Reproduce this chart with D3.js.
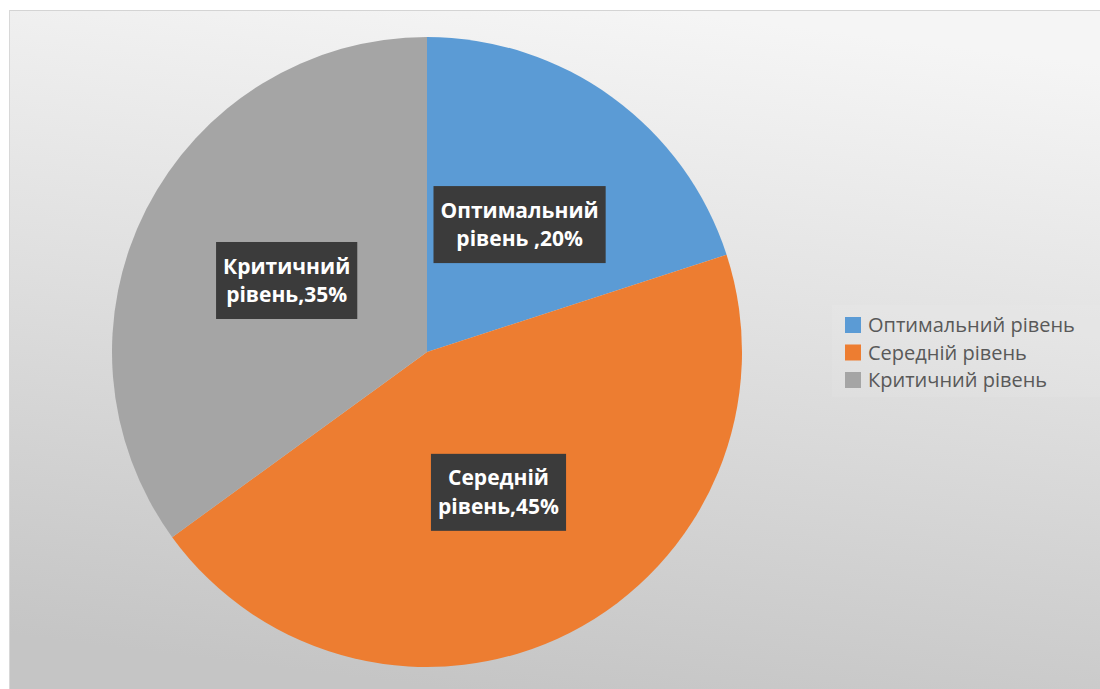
<!DOCTYPE html>
<html>
<head>
<meta charset="utf-8">
<script src="https://cdn.jsdelivr.net/npm/d3@7"></script>
<style>
  html, body { margin: 0; padding: 0; background: #ffffff; }
  svg { display: block; }
</style>
</head>
<body>
<svg id="chart" width="1100" height="689"></svg>
<script>
// Розподіл рівнів
const categories = ["Оптимальний рівень", "Середній рівень", "Критичний рівень"];
const values = [20, 45, 35];
const labelLines = [
  ["Оптимальний", "рівень ,20%"],
  ["Середній", "рівень,45%"],
  ["Критичний", "рівень,35%"]
];
const colors = ["#5b9bd5", "#ed7d31", "#a5a5a5"];

const W = 1100, H = 689;
const svg = d3.select("#chart");

// chart area background: soft grey gradient
const defs = svg.append("defs");
const grad = defs.append("linearGradient")
  .attr("id", "bg").attr("x1", "0.6").attr("y1", "0").attr("x2", "0.4").attr("y2", "1");
grad.append("stop").attr("offset", "0").attr("stop-color", "#f5f5f5");
grad.append("stop").attr("offset", "0.45").attr("stop-color", "#e0e0e0");
grad.append("stop").attr("offset", "1").attr("stop-color", "#c5c5c5");

svg.append("rect")
  .attr("x", 9).attr("y", 10).attr("width", W - 9).attr("height", H - 10)
  .attr("fill", "url(#bg)");
svg.append("line")
  .attr("x1", 9).attr("x2", W).attr("y1", 10.5).attr("y2", 10.5)
  .attr("stroke", "#d4d4d4").attr("stroke-width", 1);
svg.append("line")
  .attr("x1", 9.5).attr("x2", 9.5).attr("y1", 10).attr("y2", H)
  .attr("stroke", "#d8d8d8").attr("stroke-width", 1);

// pie
const cx = 427, cy = 352, R = 315;
const pie = d3.pie().sort(null).value(d => d);
const arcs = pie(values);
const arc = d3.arc().innerRadius(0).outerRadius(R);

const g = svg.append("g").attr("transform", `translate(${cx},${cy})`);
g.selectAll("path.slice")
  .data(arcs)
  .join("path")
  .attr("class", "slice")
  .attr("d", arc)
  .attr("fill", (d, i) => colors[i]);

// data labels in dark boxes, centred half-way out along each slice
const labelArc = d3.arc().innerRadius(R * 0.5).outerRadius(R * 0.5);
const labelPos = arcs.map(d => labelArc.centroid(d));
const fs = 21, lh = 28.5;

const labelG = g.selectAll("g.lbl")
  .data(arcs)
  .join("g")
  .attr("class", "lbl")
  .attr("transform", (d, i) => `translate(${labelPos[i][0]},${labelPos[i][1]})`);

labelG.each(function (d, i) {
  const sel = d3.select(this);
  const rect = sel.append("rect").attr("fill", "#3b3b3b");
  const txt = sel.append("text")
    .attr("text-anchor", "middle")
    .attr("fill", "#ffffff")
    .attr("font-family", "'Open Sans', sans-serif")
    .attr("font-weight", "bold")
    .attr("font-size", fs);
  labelLines[i].forEach((line, k) => {
    txt.append("tspan")
      .attr("x", 0)
      .attr("y", (k - 0.5) * lh)
      .attr("dy", "0.35em")
      .text(line);
  });
  const bb = txt.node().getBBox();
  const padX = 7, padY = 8;
  const boxH = 2 * lh + 2 * padY + 4;
  rect.attr("x", -bb.width / 2 - padX)
    .attr("y", -boxH / 2)
    .attr("width", bb.width + 2 * padX)
    .attr("height", boxH);
});

// legend
svg.append("rect")
  .attr("x", 832).attr("y", 305).attr("width", W - 832).attr("height", 92)
  .attr("fill", "#ffffff").attr("opacity", 0.07);
const legend = svg.append("g").attr("transform", "translate(845,325)");
const items = legend.selectAll("g.item")
  .data(categories)
  .join("g")
  .attr("class", "item")
  .attr("transform", (d, i) => `translate(0,${i * 27.5})`);
items.append("rect")
  .attr("x", 0).attr("y", -8).attr("width", 16).attr("height", 16)
  .attr("fill", (d, i) => colors[i]);
items.append("text")
  .attr("x", 23).attr("y", 0)
  .attr("dy", "0.35em")
  .attr("fill", "#595959")
  .attr("font-family", "'Open Sans', sans-serif")
  .attr("font-size", 20)
  .text(d => d);
</script>
</body>
</html>
